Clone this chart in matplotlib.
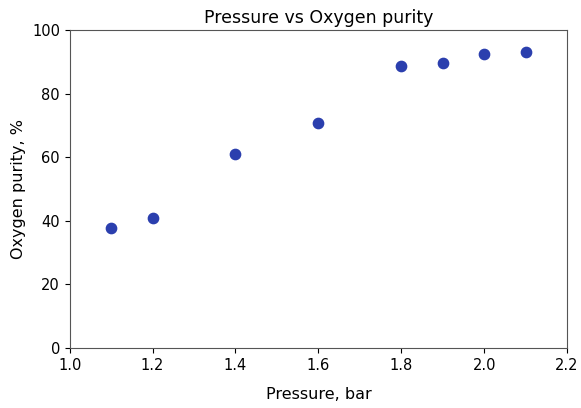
import matplotlib
matplotlib.use('Agg')
import matplotlib.pyplot as plt

# pressure (bar) and oxygen purity (%)
pressure = [1.1, 1.2, 1.4, 1.6, 1.8, 1.9, 2.0, 2.1]
purity = [37.7, 40.9, 61.2, 70.8, 88.8, 89.7, 92.5, 93.0]

fig = plt.figure(figsize=(5.81, 4.08), dpi=100)
ax = fig.add_axes([0.120, 0.147, 0.856, 0.779])

ax.scatter(pressure, purity, s=55, c='#2b3fae')

ax.set_xlim(1.0, 2.2)
ax.set_ylim(0, 100)
ax.set_xticks([1.0, 1.2, 1.4, 1.6, 1.8, 2.0, 2.2])
ax.set_yticks([0, 20, 40, 60, 80, 100])

ax.set_title('Pressure vs Oxygen purity', fontsize=12.5, pad=5)
ax.set_xlabel('Pressure, bar', fontsize=11.5, labelpad=10)
ax.set_ylabel('Oxygen purity, %', fontsize=11.5, labelpad=4)
ax.tick_params(axis='both', which='major', labelsize=10.5)

for sp in ax.spines.values():
    sp.set_color('#555555')

fig.savefig('out.png', dpi=100)
